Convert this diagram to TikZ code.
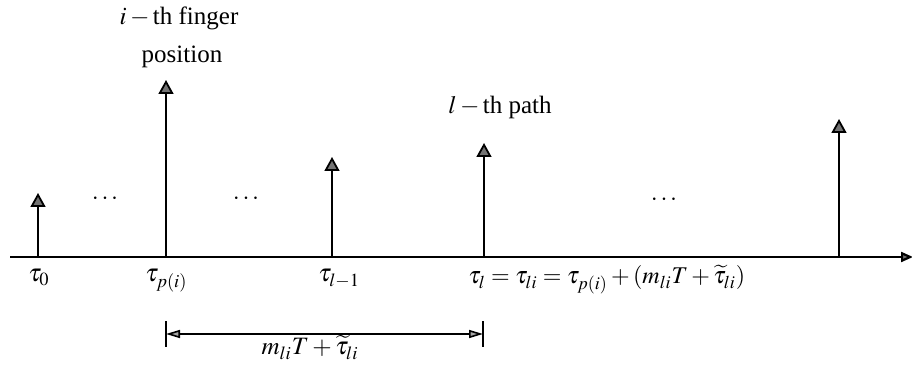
\documentclass[tikz,border=0pt]{standalone}
\usepackage{mathptmx}
\usepackage{fontspec}
\setmainfont{Liberation Serif}
\usetikzlibrary{arrows.meta}

\begin{document}
\begin{tikzpicture}[x=0.5pt,y=-0.5pt,
    spike/.style={-{Triangle[length=7pt,width=7.5pt,fill=black!55]},line width=0.9pt},
    dimarr/.style={{Triangle[length=7pt,width=4pt,fill=black!35]}-{Triangle[length=7pt,width=4pt,fill=black!35]},line width=0.8pt},
    lbl/.style={font=\fontsize{12.5}{19}\selectfont,inner sep=0pt}]
  \useasboundingbox (0,0) rectangle (912,373);
  \def\ax{257} % 横軸の高さ

  % 横軸
  \coordinate (axL) at (10,\ax);
  \coordinate (axR) at (913,\ax);
  \draw[-{Triangle[length=6pt,width=5pt,fill=black!55]},line width=1.1pt] (axL) -- (axR);

  % パス
  \coordinate (b0) at (38,\ax);   \coordinate (t0) at (38,193);
  \coordinate (bp) at (166,\ax);  \coordinate (tp) at (166,80);
  \coordinate (bm) at (332,\ax);  \coordinate (tm) at (332,157);
  \coordinate (bl) at (484,\ax);  \coordinate (tl) at (484,143);
  \coordinate (bz) at (839,\ax);  \coordinate (tz) at (839,119);
  \foreach \b/\t in {b0/t0,bp/tp,bm/tm,bl/tl,bz/tz}
    \draw[spike] (\b) -- (\t);

  % 省略記号
  \node[lbl] (dots1) at (105,199) {$\cdots$};
  \node[lbl] (dots2) at (246,199) {$\cdots$};
  \node[lbl] (dots3) at (664,200) {$\cdots$};

  % 上のラベル
  \node[lbl,anchor=base] (finger) at (179,25) {$i-{}$th finger};
  \node[lbl,anchor=base] (position) at (182,63) {position};
  \node[lbl,anchor=base] (path) at (500,114) {$l-{}$th path};

  % 遅延
  \node[lbl,anchor=base west] (tau0) at (28,282) {$\tau_0$};
  \node[lbl,anchor=base west] (taup) at (145,282) {$\tau_{p(i)}$};
  \node[lbl,anchor=base west] (taum) at (318,282) {$\tau_{l-1}$};
  \node[lbl,anchor=base west,font=\fontsize{12}{14}\selectfont] (taul) at (468,284)
    {$\tau_l=\tau_{li}=\tau_{p(i)}+(m_{li}T+\widetilde{\tau}_{li})$};

  % 間隔
  \coordinate (dL) at (166,334);
  \coordinate (dR) at (483,334);
  \draw[line width=0.8pt] ([yshift=-6.5pt]dL) -- ([yshift=6.5pt]dL);
  \draw[line width=0.8pt] ([yshift=-6.5pt]dR) -- ([yshift=6.5pt]dR);
  \draw[dimarr] (dL) -- (dR);
  \node[lbl,anchor=base] (gap) at (310,355) {$m_{li}T+\widetilde{\tau}_{li}$};
\end{tikzpicture}
\end{document}
